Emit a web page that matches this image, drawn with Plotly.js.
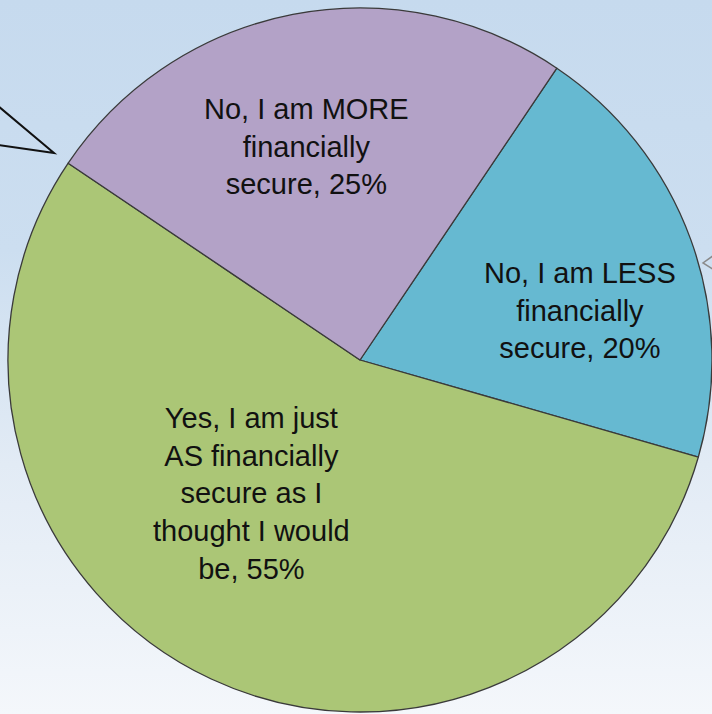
<!DOCTYPE html>
<html>
<head>
<meta charset="utf-8">
<script src="https://cdn.plot.ly/plotly-3.0.1.min.js"></script>
<style>
  html, body { margin:0; padding:0; width:712px; height:714px; overflow:hidden; }
  body { background: linear-gradient(to bottom, #C6DAEE 0%, #CCDEF0 35%, #E2EBF5 65%, #F4F7FB 100%); }
  #chart { width:712px; height:714px; }
</style>
</head>
<body>
<div id="chart"></div>
<script>
// Data
const labels = [
  "No, I am LESS<br>financially<br>secure",
  "Yes, I am just<br>AS financially<br>secure as I<br>thought I would<br>be",
  "No, I am MORE<br>financially<br>secure"
];
const values = [20, 55, 25];
const colors = ["#66B9D1", "#ABC676", "#B3A2C7"];

// Label placement (paper coords), layout only
const W = 712, H = 714;
const labelPos = [[580, 310], [251, 493], [306, 147]];

const annotations = labels.map((lab, i) => ({
  xref: 'paper', yref: 'paper',
  x: labelPos[i][0] / W, y: 1 - labelPos[i][1] / H,
  xanchor: 'center', yanchor: 'middle',
  text: lab + ', ' + values[i] + '%',
  showarrow: false,
  align: 'center',
  font: { family: 'Liberation Sans, Arial, sans-serif', size: 29, color: '#111111' }
}));

const px = (x) => x / W, py = (y) => 1 - y / H;
const shapes = [
  { type: 'path', xref: 'paper', yref: 'paper',
    path: `M${px(-2)},${py(106)} L${px(54)},${py(153)} L${px(-2)},${py(145)}`,
    line: { color: '#111111', width: 2 } },
  { type: 'path', xref: 'paper', yref: 'paper',
    path: `M${px(714)},${py(255)} L${px(703)},${py(263)} L${px(714)},${py(270)}`,
    line: { color: '#8a8a8a', width: 1.5 } }
];

const trace = {
  type: 'pie',
  labels: labels,
  values: values,
  sort: false,
  direction: 'clockwise',
  rotation: 34,
  textinfo: 'none',
  hoverinfo: 'label+percent',
  marker: { colors: colors, line: { color: '#3a3a3a', width: 1.3 } },
  domain: { x: [8 / W, 1], y: [2 / H, 706 / H] },
  showlegend: false
};

Plotly.newPlot('chart', [trace], {
  width: W, height: H,
  margin: { l: 0, r: 0, t: 0, b: 0 },
  paper_bgcolor: 'rgba(0,0,0,0)',
  plot_bgcolor: 'rgba(0,0,0,0)',
  showlegend: false,
  annotations: annotations,
  shapes: shapes
}, { displayModeBar: false, staticPlot: true });
</script>
</body>
</html>
